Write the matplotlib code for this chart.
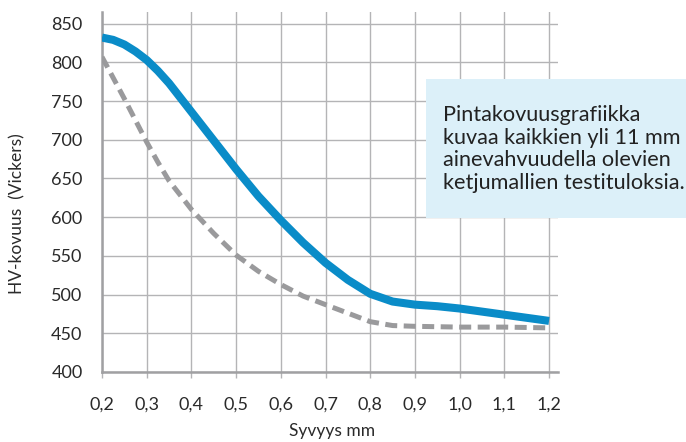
import matplotlib.pyplot as plt
from matplotlib.patches import Rectangle

# Depth (mm) and hardness readings
depth = [0.2, 0.225, 0.25, 0.275, 0.3, 0.325, 0.35, 0.4, 0.45, 0.5, 0.55,
         0.6, 0.65, 0.7, 0.75, 0.8, 0.85, 0.9, 0.95, 1.0, 1.05, 1.1, 1.15, 1.2]
hv_main = [832, 829, 823, 814, 803, 789, 773, 736, 699, 662, 627,
           596, 567, 541, 519, 501, 491, 487, 485, 482, 478, 474, 470, 466]
hv_low = [807, 780, 753, 725, 697, 671, 647, 610, 579, 551, 530,
          513, 498, 487, 476, 465, 460, 459, 458.5, 458, 458, 458, 457.5, 457]

x_ticks = [0.2, 0.3, 0.4, 0.5, 0.6, 0.7, 0.8, 0.9, 1.0, 1.1, 1.2]
x_labels = ["0,2", "0,3", "0,4", "0,5", "0,6", "0,7", "0,8", "0,9", "1,0", "1,1", "1,2"]
y_ticks = [400, 450, 500, 550, 600, 650, 700, 750, 800, 850]

note = ("Pintakovuusgrafiikka\nkuvaa kaikkien yli 11 mm\n"
        "ainevahvuudella olevien\nketjumallien testituloksia.")

plt.rcParams['font.family'] = ['Lato', 'DejaVu Sans']

fig = plt.figure(figsize=(6.86, 4.42), dpi=100)
ax = fig.add_axes([102 / 686, 1 - 372 / 442, (558 - 102) / 686, (372 - 12) / 442])

ax.plot(depth, hv_low, color='#9a9a9c', lw=3.6, dashes=(2.4, 1.3), zorder=3)
ax.plot(depth, hv_main, color='#0a8cc8', lw=5.8, solid_capstyle='butt',
        solid_joinstyle='round', zorder=4)

ax.set_xlim(0.2, 1.22)
ax.set_ylim(400, 865)
ax.set_xticks(x_ticks)
ax.set_xticklabels(x_labels)
ax.set_yticks(y_ticks)

ax.grid(True, color='#b4b4b6', lw=1.0)
ax.set_axisbelow(True)
for side in ['top', 'right']:
    ax.spines[side].set_visible(False)
for side in ['left', 'bottom']:
    ax.spines[side].set_color('#a0a0a2')
    ax.spines[side].set_linewidth(1.8)

ax.tick_params(axis='x', length=4, width=1, color='#b4b4b6', pad=14,
               labelsize=13, labelcolor='#2a2a2a')
ax.tick_params(axis='y', length=0, pad=14, labelsize=13, labelcolor='#2a2a2a')

fig.text(332 / 686, 1 - 431 / 442, "Syvyys mm", ha='center', va='center',
         fontsize=12.5, color='#2a2a2a')
fig.text(17 / 686, 1 - 214 / 442, "HV-kovuus  (Vickers)", ha='center', va='center',
         rotation=90, fontsize=12.5, color='#2a2a2a')

# light blue note box on top of the grid
box = Rectangle((426 / 686, 1 - 218 / 442), 1 - 426 / 686, (218 - 79) / 442,
                transform=fig.transFigure, facecolor='#dcf0f9', edgecolor='none',
                zorder=10)
fig.add_artist(box)
fig.text(443 / 686, 1 - 149 / 442, note, ha='left', va='center', fontsize=15.6,
         linespacing=1.18, color='#222222', zorder=11)

fig.savefig('out.png', dpi=100)
